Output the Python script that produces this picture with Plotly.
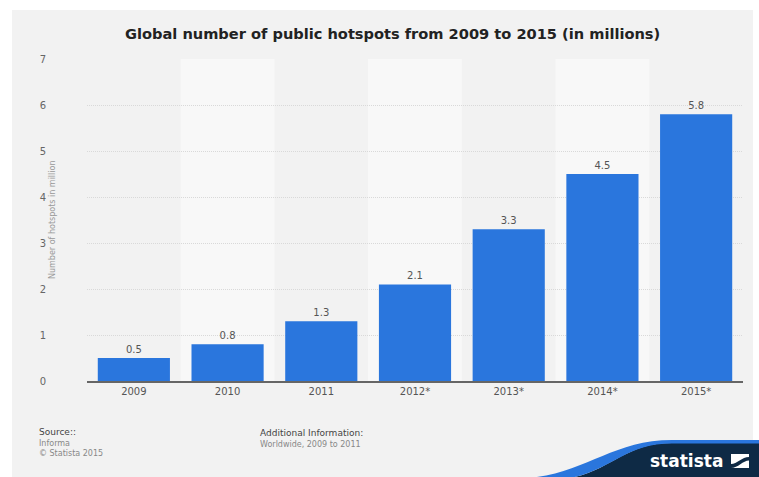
import plotly.graph_objects as go

categories = ["2009", "2010", "2011", "2012*", "2013*", "2014*", "2015*"]
values = [0.5, 0.8, 1.3, 2.1, 3.3, 4.5, 5.8]
labels = ["0.5", "0.8", "1.3", "2.1", "3.3", "4.5", "5.8"]
y_ticks = [0, 1, 2, 3, 4, 5, 6, 7]

W, H = 759, 477
L, R, T, B = 87, 16, 59, 96
PW, PH = W - L - R, H - T - B


def px(x):
    return (x - L) / PW


def py(y):
    return (H - B - y) / PH


def path(points_cmds):
    out = []
    for cmd, pts in points_cmds:
        s = cmd
        if pts:
            s += " " + " ".join(f"{px(a):.5f},{py(b):.5f}" for a, b in pts)
        out.append(s)
    return " ".join(out)


fig = go.Figure()
fig.add_trace(go.Bar(
    x=categories, y=values, text=labels, textposition="outside",
    textfont=dict(size=10, color="#555555", family="DejaVu Sans"),
    marker=dict(color="#2a76dd", line=dict(width=0)),
    width=0.77, cliponaxis=False, hoverinfo="skip",
))

shapes = []
# panel
shapes.append(dict(type="rect", xref="paper", yref="paper", x0=px(12), x1=px(753), y0=py(10), y1=py(477),
                   fillcolor="#f2f2f2", line=dict(width=0), layer="below"))
# alternating bands
for i, c in enumerate(categories):
    if i % 2 == 1:
        shapes.append(dict(type="rect", xref="x", yref="paper", x0=i - 0.5, x1=i + 0.5, y0=0, y1=1,
                           fillcolor="#f8f8f8", line=dict(width=0), layer="below"))
# statista banner
dark = path([("M", [(570, 478)]), ("C", [(612, 470), (625, 443), (672, 443)]), ("L", [(760, 443)]),
             ("L", [(760, 478)]), ("Z", [])])
blue = path([("M", [(527, 478)]), ("C", [(585, 474), (612, 440), (672, 440)]), ("L", [(760, 440)]),
             ("L", [(760, 443.5)]), ("L", [(672, 443.5)]), ("C", [(625, 443.5), (612, 470), (570, 478)]), ("Z", [])])
shapes.append(dict(type="path", xref="paper", yref="paper", path=dark, fillcolor="#0e2a45", line=dict(width=0)))
shapes.append(dict(type="path", xref="paper", yref="paper", path=blue, fillcolor="#2a76dd", line=dict(width=0)))
# logo icon
shapes.append(dict(type="rect", xref="paper", yref="paper", x0=px(731), x1=px(749), y0=py(468), y1=py(454),
                   fillcolor="#ffffff", line=dict(width=0)))
icon = path([("M", [(731, 464)]), ("C", [(737, 464), (742, 457), (749, 457)]), ("L", [(749, 460.5)]),
             ("C", [(743, 460.5), (738, 468), (731, 468)]), ("Z", [])])
shapes.append(dict(type="path", xref="paper", yref="paper", path=icon, fillcolor="#0e2a45", line=dict(width=0)))

annotations = [
    dict(text="<b>Global number of public hotspots from 2009 to 2015 (in millions)</b>",
         xref="paper", yref="paper", x=px(392), y=py(34), showarrow=False,
         font=dict(size=14.6, color="#222222", family="DejaVu Sans"), xanchor="center", yanchor="middle"),
    dict(text="Number of hotspots in million", textangle=-90, xref="paper", yref="paper",
         x=px(52), y=py(220), showarrow=False, font=dict(size=8, color="#999999", family="DejaVu Sans"),
         xanchor="center", yanchor="middle"),
    dict(text="Source::", xref="paper", yref="paper", x=px(37), y=py(432), showarrow=False,
         font=dict(size=9, color="#444444", family="DejaVu Sans"), xanchor="left", yanchor="middle"),
    dict(text="Informa", xref="paper", yref="paper", x=px(37), y=py(443), showarrow=False,
         font=dict(size=8, color="#888888", family="DejaVu Sans"), xanchor="left", yanchor="middle"),
    dict(text="© Statista 2015", xref="paper", yref="paper", x=px(37), y=py(453), showarrow=False,
         font=dict(size=8, color="#888888", family="DejaVu Sans"), xanchor="left", yanchor="middle"),
    dict(text="Additional Information:", xref="paper", yref="paper", x=px(258), y=py(433), showarrow=False,
         font=dict(size=9, color="#444444", family="DejaVu Sans"), xanchor="left", yanchor="middle"),
    dict(text="Worldwide, 2009 to 2011", xref="paper", yref="paper", x=px(258), y=py(444), showarrow=False,
         font=dict(size=8, color="#888888", family="DejaVu Sans"), xanchor="left", yanchor="middle"),
    dict(text="<b>statista</b>", xref="paper", yref="paper", x=px(725), y=py(461), showarrow=False,
         font=dict(size=17, color="#ffffff", family="DejaVu Sans"), xanchor="right", yanchor="middle"),
]

fig.update_layout(
    width=W, height=H, margin=dict(l=L, r=R, t=T, b=B),
    paper_bgcolor="#ffffff", plot_bgcolor="rgba(0,0,0,0)",
    showlegend=False, bargap=0.23,
    shapes=shapes, annotations=annotations,
    font=dict(family="DejaVu Sans", color="#555555"),
    xaxis=dict(type="category", showgrid=False, showline=True, linecolor="#666666", linewidth=2,
               ticks="", tickfont=dict(size=10, color="#555555"), fixedrange=True),
    yaxis=dict(range=[0, 7], tickvals=y_ticks, showgrid=True, gridcolor="#d9d9d9", griddash="1px,1px",
               zeroline=False, showline=False, ticks="", tickfont=dict(size=10, color="#666666"),
               ticklabelstandoff=40, fixedrange=True),
)

fig.write_html("out.html", config={"displayModeBar": False},
               post_script="document.body.style.margin='0';document.body.style.overflow='hidden';")
